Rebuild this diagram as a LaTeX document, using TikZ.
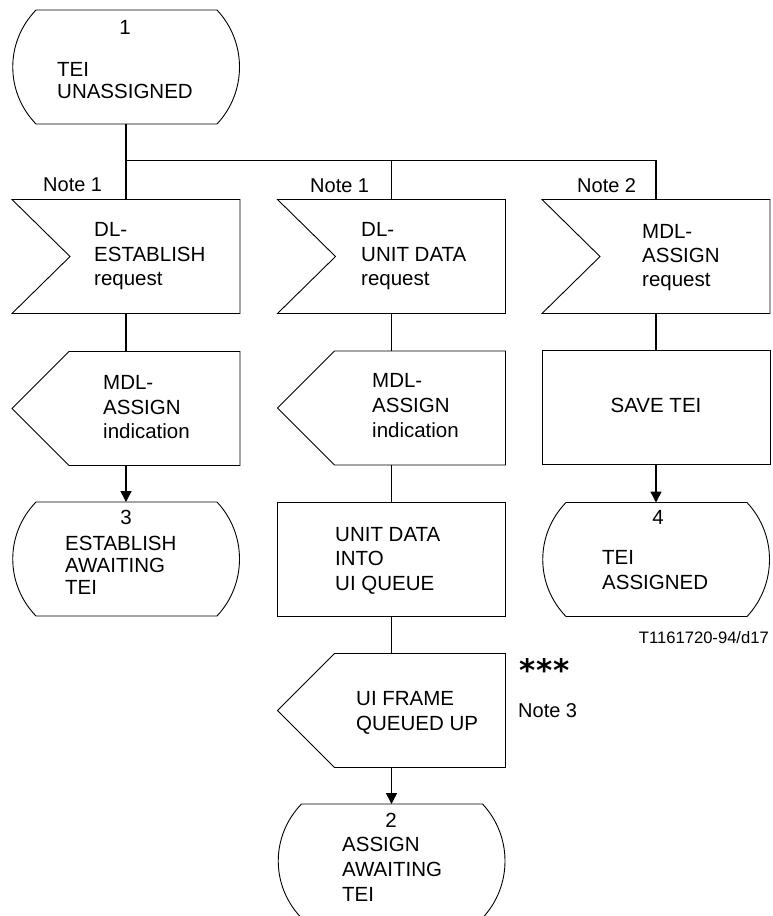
\documentclass[tikz,border=0pt]{standalone}
\usepackage{fontspec}
\setmainfont{Liberation Sans}
\newfontfamily\astfont{DejaVu Sans}
\usetikzlibrary{arrows.meta,calc}
\begin{document}
\begin{tikzpicture}[x=1pt,y=-1pt,
  shapebox/.style={minimum width=228pt, minimum height=114pt, inner sep=0pt, outer sep=0pt},
  txt/.style={inner sep=0pt, anchor=north west, align=left, font=\fontsize{20.5pt}{#1pt}\selectfont},
  txt/.default=24.5,
  num/.style={inner sep=0pt, anchor=north, font=\fontsize{20.5pt}{24pt}\selectfont},
  note/.style={inner sep=0pt, anchor=base west, font=\fontsize{20pt}{24pt}\selectfont},
  outline/.style={draw=black, line width=0.9pt},
  flow/.style={line width=1.5pt},
  arr/.style={flow, -{Triangle[length=11pt,width=11pt]}}
]
\useasboundingbox (0,0) rectangle (773,916);

% shapes (named nodes)
\node[shapebox] (st1) at (126,67) {};
\node[shapebox] (in1) at (126,256.5) {};
\node[shapebox] (in2) at (391.5,256.5) {};
\node[shapebox] (in3) at (656,256.5) {};
\node[shapebox] (out1) at (126,408.5) {};
\node[shapebox] (out2) at (391.5,408) {};
\node[shapebox] (task2) at (656,407.5) {};
\node[shapebox] (task1) at (391.5,559) {};
\node[shapebox] (st3) at (126,559) {};
\node[shapebox] (st4) at (656,559.5) {};
\node[shapebox] (out3) at (391.5,710.5) {};
\node[shapebox] (st2) at (391.5,861) {};

% outlines
\foreach \n in {in1,in2,in3}
  \draw[outline] (\n.north west) -- (\n.north east) -- (\n.south east) -- (\n.south west) -- ($(\n.west)+(58,0)$) -- cycle;
\foreach \n in {out1,out2,out3}
  \draw[outline] (\n.north east) -- (\n.south east) -- ($(\n.south west)+(57,0)$) -- (\n.west) -- ($(\n.north west)+(57,0)$) -- cycle;
\foreach \n in {task1,task2}
  \draw[outline] (\n.north west) rectangle (\n.south east);
\foreach \n in {st1,st2,st3,st4}
  \draw[outline] ($(\n.north west)+(24,0)$) -- ($(\n.north east)+(-23,0)$)
    .. controls ($(\n.north east)+(7,32)$) and ($(\n.south east)+(7,-32)$) .. ($(\n.south east)+(-23,0)$)
    -- ($(\n.south west)+(24,0)$)
    .. controls ($(\n.south west)+(-7,-32)$) and ($(\n.north west)+(-7,32)$) .. ($(\n.north west)+(24,0)$) -- cycle;

% texts
\node[txt] (in1t) at (94,222.3) {DL-\\ESTABLISH\\request};
\node[txt] (in2t) at (361,222.3) {DL-\\UNIT DATA\\request};
\node[txt=24] (in3t) at (642,224.3) {MDL-\\ASSIGN\\request};
\node[txt] (out1t) at (103,375.3) {MDL-\\ASSIGN\\indication};
\node[txt=25] (out2t) at (372,373.3) {MDL-\\ASSIGN\\indication};
\node[txt] (task1t) at (335,526.8) {UNIT DATA\\INTO\\UI QUEUE};
\node[txt=25] (out3t) at (356,691.3) {UI FRAME\\QUEUED UP};
\node[num] (task2t) at (656,398.3) {SAVE TEI};
\node[num] (st1n) at (125,20.3) {1};
\node[txt=22] (st1t) at (57,62.3) {TEI\\UNASSIGNED};
\node[num] (st3n) at (126,510.3) {3};
\node[txt=22.2] (st3t) at (65,536) {ESTABLISH\\AWAITING\\TEI};
\node[num] (st2n) at (391,813.3) {2};
\node[txt=25] (st2t) at (342,837.3) {ASSIGN\\AWAITING\\TEI};
\node[num] (st4n) at (658,510.3) {4};
\node[txt=25] (st4t) at (602,550.3) {TEI\\ASSIGNED};

\node[note] (n1) at (43,191.7) {Note 1};
\node[note] (n2) at (310,192) {Note 1};
\node[note] (n3) at (577,192) {Note 2};
\node[note] (n4) at (518,717) {Note 3};
\node[inner sep=0pt, anchor=base east, font=\fontsize{16.6pt}{20pt}\selectfont] (ref) at (769,643) {T1161720-94/d17};
\node[inner sep=0pt, anchor=base west, font=\astfont\bfseries\fontsize{31pt}{31pt}\selectfont] (ast) at (519,681) {*\hspace{1pt}*\hspace{1pt}*};

% connectors
\coordinate (fork) at (126,160.5);
\draw[flow] (st1.south) -- (fork) -- (in1.north);
\draw[flow] (fork) -| (in2.north);
\draw[flow] (fork) -| (in3.north);
\draw[flow] (in1.south) -- (out1.north);
\draw[arr] (out1.south) -- (st3.north);
\draw[flow] (in2.south) -- (out2.north);
\draw[flow] (out2.south) -- (task1.north);
\draw[flow] (task1.south) -- (out3.north);
\draw[arr] (out3.south) -- (st2.north);
\draw[flow] (in3.south) -- (task2.north);
\draw[arr] (task2.south) -- (st4.north);
\end{tikzpicture}
\end{document}
